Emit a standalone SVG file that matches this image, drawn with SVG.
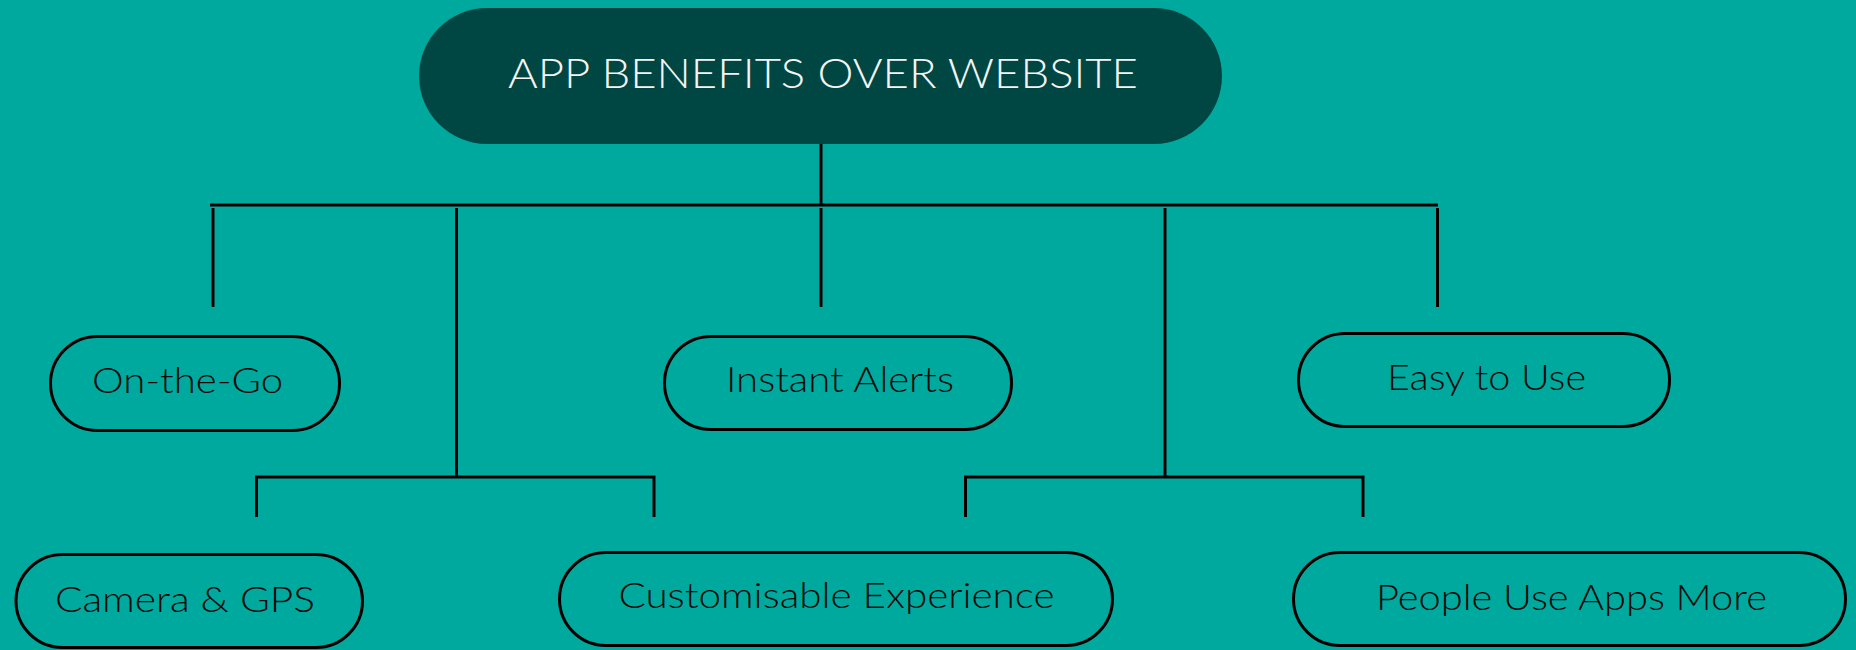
<svg xmlns="http://www.w3.org/2000/svg" width="1856" height="650" viewBox="0 0 1856 650">
  <style>
    .pill { fill: none; stroke: #000; stroke-width: 3; }
    .lbl { font-family: "Lato Light", Lato, "Open Sans", "Liberation Sans", sans-serif; font-weight: 300; font-size: 36px; fill: #0a0a0a; }
    .title { font-family: "Lato Light", Lato, "Open Sans", "Liberation Sans", sans-serif; font-weight: 300; font-size: 42px; fill: #f4f4f4; }
    .conn { stroke: #000; stroke-width: 3; fill: none; }
  </style>
  <rect x="0" y="0" width="1856" height="650" fill="#00A99E"/>

  <g id="connectors">
    <line class="conn" x1="821" y1="144" x2="821" y2="205"/>
    <line class="conn" x1="210" y1="205" x2="1438" y2="205"/>
    <line class="conn" x1="213" y1="208" x2="213" y2="307"/>
    <line class="conn" x1="821" y1="208" x2="821" y2="307"/>
    <line class="conn" x1="1437.5" y1="208" x2="1437.5" y2="307"/>
    <line class="conn" x1="456.5" y1="208" x2="456.5" y2="477"/>
    <line class="conn" x1="1165" y1="208" x2="1165" y2="477"/>
    <polyline class="conn" points="256.5,517 256.5,477 654,477 654,517"/>
    <polyline class="conn" points="965.5,517 965.5,477 1363,477 1363,517"/>
  </g>

  <g id="title">
    <rect x="419" y="8" width="803" height="136" rx="68" ry="68" fill="#004743"/>
    <text class="title" x="508" y="88" textLength="630" lengthAdjust="spacingAndGlyphs">APP BENEFITS OVER WEBSITE</text>
  </g>

  <g id="on-the-go">
    <rect class="pill" x="50.5" y="336.5" width="289" height="94" rx="47" ry="47"/>
    <text class="lbl" x="92" y="393" textLength="191" lengthAdjust="spacingAndGlyphs">On-the-Go</text>
  </g>

  <g id="instant-alerts">
    <rect class="pill" x="664.5" y="336.5" width="347" height="93" rx="46.5" ry="46.5"/>
    <text class="lbl" x="726" y="392" textLength="228" lengthAdjust="spacingAndGlyphs">Instant Alerts</text>
  </g>

  <g id="easy-to-use">
    <rect class="pill" x="1298.5" y="333.5" width="371" height="93" rx="46.5" ry="46.5"/>
    <text class="lbl" x="1387" y="390" textLength="199" lengthAdjust="spacingAndGlyphs">Easy to Use</text>
  </g>

  <g id="camera-gps">
    <rect class="pill" x="16" y="554.5" width="346.5" height="93" rx="46.5" ry="46.5"/>
    <text class="lbl" x="55" y="612" textLength="260" lengthAdjust="spacingAndGlyphs">Camera &amp; GPS</text>
  </g>

  <g id="customisable-experience">
    <rect class="pill" x="559.5" y="552.5" width="553" height="93" rx="46.5" ry="46.5"/>
    <text class="lbl" x="618.5" y="608" textLength="436" lengthAdjust="spacingAndGlyphs">Customisable Experience</text>
  </g>

  <g id="people-use-apps-more">
    <rect class="pill" x="1293.5" y="552.5" width="552" height="93" rx="46.5" ry="46.5"/>
    <text class="lbl" x="1376" y="610" textLength="391" lengthAdjust="spacingAndGlyphs">People Use Apps More</text>
  </g>
</svg>
